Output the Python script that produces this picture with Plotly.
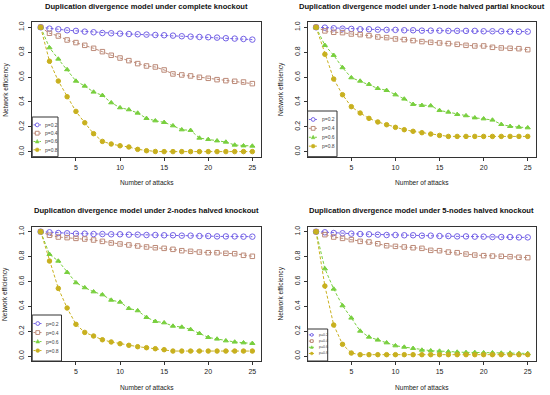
import plotly.graph_objects as go

attacks = list(range(1, 26))
series_names = ["p=0.2", "p=0.4", "p=0.6", "p=0.8"]
x_ticks = [5, 10, 15, 20, 25]
y_ticks = [0.0, 0.2, 0.4, 0.6, 0.8, 1.0]
y_tick_labels = ["0.0", "0.2", "0.4", "0.6", "0.8", "1.0"]

titles = [
    "Duplication divergence model under complete knockout",
    "Duplication divergence model under 1-node halved partial knockout",
    "Duplication divergence model under 2-nodes halved knockout",
    "Duplication divergence model under 5-nodes halved knockout",
]

# Panel 1: complete knockout
complete_p02 = [1.0, 0.989, 0.984, 0.976, 0.971, 0.965, 0.960, 0.954, 0.952, 0.949, 0.946, 0.944, 0.941,
                0.938, 0.936, 0.933, 0.928, 0.925, 0.922, 0.920, 0.917, 0.912, 0.909, 0.906, 0.901]
complete_p04 = [1.0, 0.952, 0.930, 0.898, 0.877, 0.855, 0.831, 0.804, 0.775, 0.753, 0.732, 0.708, 0.689,
                0.681, 0.657, 0.625, 0.617, 0.609, 0.598, 0.590, 0.579, 0.571, 0.566, 0.560, 0.547]
complete_p06 = [1.0, 0.836, 0.745, 0.660, 0.568, 0.528, 0.480, 0.453, 0.394, 0.354, 0.338, 0.311, 0.268,
                0.249, 0.236, 0.209, 0.177, 0.172, 0.110, 0.099, 0.088, 0.078, 0.054, 0.048, 0.046]
complete_p08 = [1.0, 0.727, 0.568, 0.442, 0.324, 0.233, 0.145, 0.083, 0.062, 0.048, 0.038, 0.019, 0.008,
                0.002, 0.001, 0.001, 0.001, 0.001, 0.001, 0.001, 0.001, 0.001, 0.001, 0.001, 0.001]

# Panel 2: 1-node halved partial knockout
one_node_p02 = [1.0, 0.997, 0.992, 0.989, 0.987, 0.984, 0.984, 0.981, 0.979, 0.979, 0.976, 0.976, 0.973,
                0.973, 0.973, 0.971, 0.971, 0.971, 0.971, 0.968, 0.968, 0.968, 0.965, 0.965, 0.965]
one_node_p04 = [1.0, 0.971, 0.960, 0.957, 0.946, 0.941, 0.933, 0.922, 0.917, 0.906, 0.901, 0.893, 0.885,
                0.879, 0.874, 0.869, 0.863, 0.855, 0.850, 0.850, 0.839, 0.834, 0.831, 0.828, 0.820]
one_node_p06 = [1.0, 0.855, 0.775, 0.676, 0.595, 0.568, 0.542, 0.509, 0.493, 0.458, 0.424, 0.381, 0.373,
                0.370, 0.332, 0.319, 0.300, 0.290, 0.273, 0.265, 0.255, 0.220, 0.204, 0.198, 0.193]
one_node_p08 = [1.0, 0.783, 0.584, 0.458, 0.362, 0.311, 0.268, 0.239, 0.217, 0.196, 0.177, 0.164, 0.153,
                0.142, 0.131, 0.123, 0.123, 0.123, 0.123, 0.123, 0.123, 0.123, 0.123, 0.123, 0.123]

# Panel 3: 2-nodes halved knockout
two_nodes_p02 = [1.0, 0.995, 0.989, 0.987, 0.984, 0.984, 0.981, 0.981, 0.979, 0.979, 0.976, 0.976, 0.973,
                 0.973, 0.971, 0.971, 0.968, 0.968, 0.965, 0.965, 0.962, 0.962, 0.962, 0.960, 0.960]
two_nodes_p04 = [1.0, 0.971, 0.957, 0.952, 0.946, 0.941, 0.933, 0.922, 0.909, 0.901, 0.893, 0.885, 0.877,
                 0.871, 0.866, 0.858, 0.847, 0.842, 0.836, 0.831, 0.831, 0.826, 0.823, 0.810, 0.802]
two_nodes_p06 = [1.0, 0.818, 0.764, 0.673, 0.590, 0.550, 0.517, 0.493, 0.450, 0.434, 0.383, 0.365, 0.311,
                 0.279, 0.268, 0.241, 0.233, 0.214, 0.182, 0.150, 0.137, 0.123, 0.113, 0.107, 0.102]
two_nodes_p08 = [1.0, 0.764, 0.544, 0.386, 0.255, 0.190, 0.161, 0.131, 0.113, 0.099, 0.086, 0.075, 0.067,
                 0.059, 0.051, 0.040, 0.040, 0.040, 0.040, 0.040, 0.040, 0.040, 0.040, 0.040, 0.040]

# Panel 4: 5-nodes halved knockout
five_nodes_p02 = [1.0, 0.995, 0.989, 0.987, 0.984, 0.981, 0.979, 0.976, 0.973, 0.973, 0.971, 0.971, 0.968,
                  0.968, 0.965, 0.965, 0.962, 0.962, 0.960, 0.960, 0.957, 0.957, 0.957, 0.954, 0.954]
five_nodes_p04 = [1.0, 0.976, 0.957, 0.946, 0.936, 0.922, 0.917, 0.903, 0.887, 0.882, 0.877, 0.871, 0.866,
                  0.850, 0.847, 0.836, 0.831, 0.820, 0.812, 0.807, 0.804, 0.802, 0.799, 0.794, 0.791]
five_nodes_p06 = [1.0, 0.702, 0.539, 0.405, 0.306, 0.201, 0.153, 0.129, 0.107, 0.083, 0.072, 0.062, 0.048,
                  0.043, 0.040, 0.035, 0.032, 0.029, 0.029, 0.027, 0.027, 0.024, 0.024, 0.021, 0.021]
five_nodes_p08 = [1.0, 0.563, 0.249, 0.094, 0.024, 0.011, 0.011, 0.011, 0.011, 0.011, 0.011, 0.011, 0.011,
                  0.011, 0.011, 0.011, 0.011, 0.011, 0.011, 0.011, 0.011, 0.011, 0.011, 0.011, 0.011]

panels = [
    [complete_p02, complete_p04, complete_p06, complete_p08],
    [one_node_p02, one_node_p04, one_node_p06, one_node_p08],
    [two_nodes_p02, two_nodes_p04, two_nodes_p06, two_nodes_p08],
    [five_nodes_p02, five_nodes_p04, five_nodes_p06, five_nodes_p08],
]

W, H = 550, 395
FONT = "Liberation Sans, Arial, Helvetica, sans-serif"
colors = ["#7462e6", "#bc8a78", "#78cf3e", "#c8b01e"]
symbols = ["circle-open", "square-open", "triangle-up", "circle"]
msizes = [5.5, 4.5, 4.5, 4.5]

# plot boxes in pixels: (left, right, top, bottom)
boxes = [
    (32.2, 260.8, 22.3, 156.7),
    (307.6, 536.2, 22.3, 156.7),
    (32.2, 260.8, 226.7, 361.0),
    (307.6, 536.2, 226.7, 361.0),
]
title_y_px = [6.5, 6.5, 210.7, 210.7]
xlab_y_px = [182.7, 182.7, 387.7, 387.7]
# legend boxes: (right edge px, top edge px, row spacing px, font size)
legend_boxes = [
    (58.0, 117.0, 8.3, 5.0),
    (337.0, 111.0, 8.9, 5.0),
    (61.5, 315.0, 9.0, 5.0),
    (327.7, 329.0, 6.2, 3.6),
]

def px(xp):
    return xp / W

def py(yp):
    return 1 - yp / H

fig = go.Figure()
annotations = []
shapes = []
layout = {}
for i, (box, data) in enumerate(zip(boxes, panels)):
    l, r, t, b = box
    sfx = "" if i == 0 else str(i + 1)
    xa, ya = "x" + sfx, "y" + sfx
    for j, vals in enumerate(data):
        fig.add_trace(go.Scatter(
            x=attacks, y=vals, name=series_names[j], mode="lines+markers",
            xaxis=xa, yaxis=ya, showlegend=False,
            line=dict(color=colors[j], width=1, dash="3px,2px"),
            marker=dict(symbol=symbols[j], size=msizes[j], color=colors[j],
                        line=dict(color=colors[j], width=1)),
        ))
    axis_common = dict(showline=True, mirror=True, linecolor="#333", linewidth=1,
                       ticks="outside", ticklen=3, tickcolor="#333", tickwidth=1,
                       showgrid=False, zeroline=False, fixedrange=True,
                       tickfont=dict(family=FONT, size=7, color="#222"))
    layout["xaxis" + sfx] = dict(axis_common, domain=[px(l), px(r)], anchor=ya,
                                  range=[0.04, 25.96], tickvals=x_ticks, ticklabelstandoff=1)
    layout["yaxis" + sfx] = dict(axis_common, domain=[py(b), py(t)], anchor=xa,
                                  range=[-0.04, 1.04], tickvals=y_ticks, ticktext=y_tick_labels,
                                  tickangle=-90, ticklabelstandoff=1)
    cx = px((l + r) / 2)
    annotations.append(dict(text="<b>" + titles[i] + "</b>", x=cx, y=py(title_y_px[i]),
                            xref="paper", yref="paper", showarrow=False,
                            xanchor="center", yanchor="middle",
                            font=dict(family=FONT, size=7.6, color="#111")))
    annotations.append(dict(text="Number of attacks", x=cx, y=py(xlab_y_px[i]),
                            xref="paper", yref="paper", showarrow=False,
                            xanchor="center", yanchor="middle",
                            font=dict(family=FONT, size=6.6, color="#222")))
    annotations.append(dict(text="Network efficiency", x=px(l - 27), y=py((t + b) / 2),
                            xref="paper", yref="paper", showarrow=False, textangle=-90,
                            xanchor="center", yanchor="middle",
                            font=dict(family=FONT, size=6.6, color="#222")))

    # legend (drawn as layout decorations, R-style compact box)
    lr, lt, sp, fs = legend_boxes[i]
    shapes.append(dict(type="rect", xref="paper", yref="paper",
                       x0=px(l), x1=px(lr), y0=py(b), y1=py(lt),
                       line=dict(color="#333", width=1), fillcolor="white", layer="above"))
    key_l = l + 1.3
    key_r = l + 0.3 * (lr - l) + 1.0
    key_c = (key_l + key_r) / 2
    ms = fs * 0.38
    for j, name in enumerate(series_names):
        yy = lt + sp * (j + 0.95)
        shapes.append(dict(type="line", xref="paper", yref="paper",
                           x0=px(key_l), x1=px(key_r), y0=py(yy), y1=py(yy),
                           line=dict(color=colors[j], width=1, dash="2px,1px"), layer="above"))
        if j == 0:
            shapes.append(dict(type="circle", xref="paper", yref="paper",
                               x0=px(key_c - ms), x1=px(key_c + ms), y0=py(yy + ms), y1=py(yy - ms),
                               line=dict(color=colors[j], width=1), fillcolor="white", layer="above"))
        elif j == 1:
            shapes.append(dict(type="rect", xref="paper", yref="paper",
                               x0=px(key_c - ms), x1=px(key_c + ms), y0=py(yy + ms), y1=py(yy - ms),
                               line=dict(color=colors[j], width=1), fillcolor="white", layer="above"))
        elif j == 2:
            path = "M {:.4f},{:.4f} L {:.4f},{:.4f} L {:.4f},{:.4f} Z".format(
                px(key_c - ms), py(yy + ms * 0.8), px(key_c + ms), py(yy + ms * 0.8),
                px(key_c), py(yy - ms * 1.1))
            shapes.append(dict(type="path", xref="paper", yref="paper", path=path,
                               line=dict(color=colors[j], width=0.5), fillcolor=colors[j], layer="above"))
        else:
            shapes.append(dict(type="circle", xref="paper", yref="paper",
                               x0=px(key_c - ms), x1=px(key_c + ms), y0=py(yy + ms), y1=py(yy - ms),
                               line=dict(color=colors[j], width=0.5), fillcolor=colors[j], layer="above"))
        annotations.append(dict(text=name, x=px(key_r + 2.2), y=py(yy), xref="paper", yref="paper",
                                showarrow=False, xanchor="left", yanchor="middle",
                                font=dict(family=FONT, size=fs, color="#444")))

fig.update_layout(
    width=W, height=H, margin=dict(l=0, r=0, t=0, b=0),
    paper_bgcolor="white", plot_bgcolor="white", hovermode=False,
    annotations=annotations, shapes=shapes, **layout,
)
fig.write_html("out.html", config={"displayModeBar": False, "staticPlot": True},
               post_script="document.body.style.margin='0';document.body.style.padding='0';")
